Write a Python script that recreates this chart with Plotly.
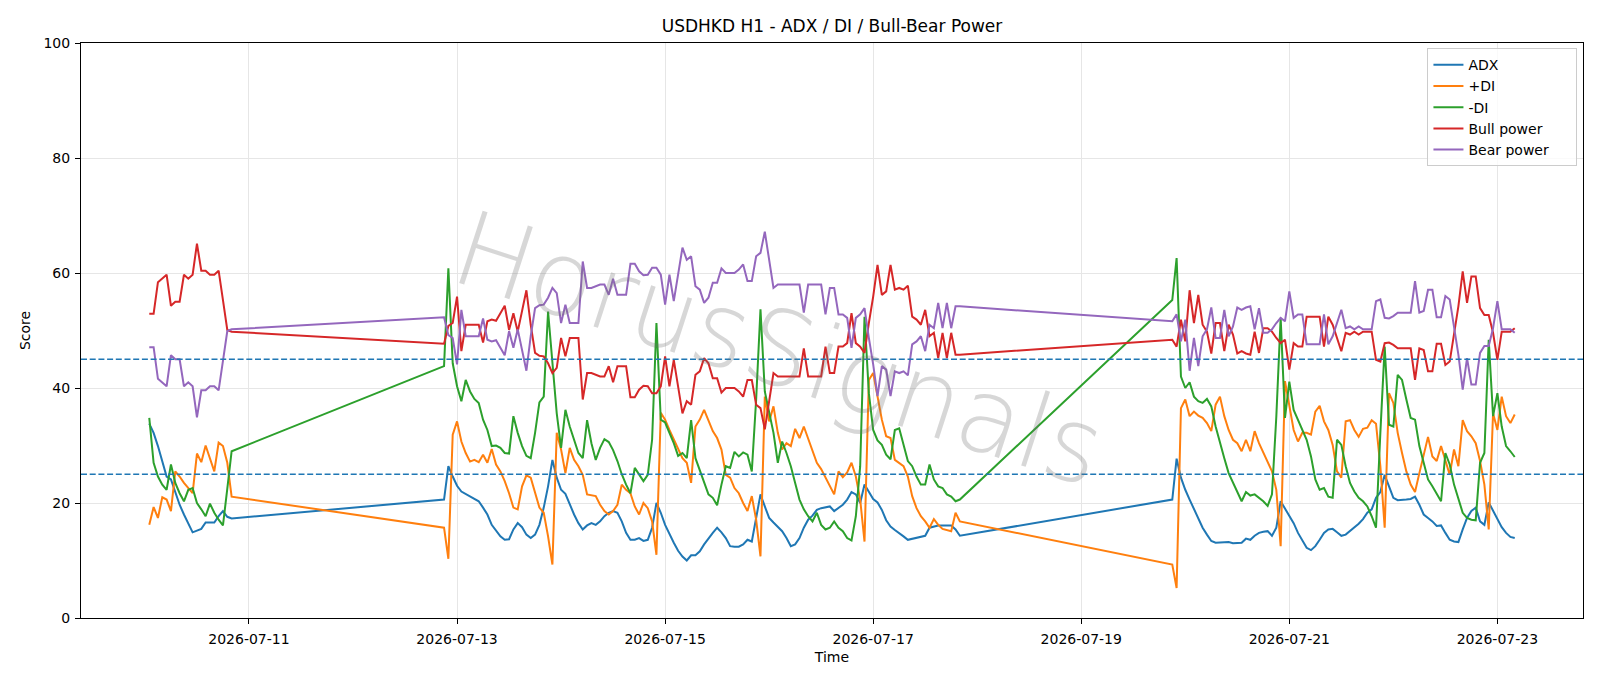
import pandas as pd
import plotly.graph_objects as go

# ---- time axis: three trading segments of hourly bars ----
seg_starts = ["2026-07-10 01:00", "2026-07-12 21:00", "2026-07-19 21:00"]
seg_lengths = [20, 120, 80]

# ---- series values ----
adx = [
    # segment 1
    33.8, 32.2, 29.9, 27.0, 24.6, 24.1, 22.0, 19.7, 18.0, 16.5,
    14.9, 15.2, 15.5, 16.6, 16.6, 16.6, 17.7, 18.6, 17.6, 17.3,
    # segment 2
    20.6, 26.4, 24.6, 23.0, 22.0, 21.6, 21.2, 20.7, 20.3, 19.2,
    18.0, 16.2, 15.1, 14.2, 13.6, 13.7, 15.4, 16.5, 15.8, 14.5,
    13.9, 14.5, 16.2, 19.2, 22.9, 27.5, 24.4, 22.3, 21.6, 19.7,
    18.0, 16.5, 15.4, 16.1, 16.5, 16.2, 16.8, 17.7, 18.3, 18.6,
    18.3, 16.8, 14.8, 13.6, 13.6, 13.9, 13.4, 13.6, 15.7, 20.0,
    18.3, 16.2, 14.5, 13.1, 11.7, 10.7, 10.0, 10.9, 10.9, 11.6,
    12.8, 13.9, 14.8, 15.7, 14.9, 13.9, 12.5, 12.4, 12.4, 12.8,
    13.6, 13.3, 17.7, 21.5, 19.4, 17.4, 16.6, 15.9, 15.1, 13.9,
    12.5, 12.8, 13.9, 15.7, 17.1, 17.8, 18.8, 19.1, 19.3, 19.4,
    18.6, 19.1, 19.7, 20.6, 21.9, 21.5, 20.0, 23.2, 22.0, 20.7,
    20.1, 18.8, 17.0, 15.9, 15.3, 14.8, 14.2, 13.6, 13.8, 13.9,
    14.1, 14.3, 15.7, 15.9, 16.1, 16.1, 16.1, 16.1, 15.4, 14.3,
    # segment 3
    20.6, 27.7, 24.4, 22.3, 20.6, 18.9, 17.1, 15.7, 14.5, 13.4,
    13.1, 13.1, 13.2, 13.2, 13.0, 13.0, 13.1, 13.8, 13.6, 14.3,
    14.8, 15.0, 15.1, 14.3, 15.7, 20.3, 19.1, 17.8, 16.5, 14.8,
    13.4, 12.2, 11.8, 12.5, 13.6, 14.8, 15.4, 15.5, 14.9, 14.3,
    14.5, 15.1, 15.8, 16.4, 17.2, 18.3, 18.9, 20.9, 21.9, 24.9,
    22.9, 20.9, 20.5, 20.5, 20.6, 20.7, 21.1, 19.7, 18.0, 17.4,
    16.8, 16.0, 16.1, 14.8, 13.6, 13.3, 13.2, 15.4, 17.4, 18.6,
    19.2, 16.8, 16.2, 20.1, 18.6, 17.1, 15.8, 14.8, 14.1, 13.9,
]

plus_di = [
    16.2, 19.3, 17.4, 21.0, 20.6, 18.6, 25.5, 24.6, 23.5, 22.6,
    21.7, 28.6, 27.1, 30.0, 27.7, 25.5, 30.5, 29.9, 27.0, 21.1,
    15.7, 10.3, 31.9, 34.2, 30.7, 28.7, 27.2, 27.5, 27.1, 28.4,
    27.0, 29.4, 26.7, 25.5, 23.8, 21.7, 19.2, 18.9, 22.9, 24.8,
    24.4, 21.7, 19.2, 18.3, 14.2, 9.3, 32.2, 29.3, 25.2, 29.6,
    27.5, 26.4, 24.9, 21.5, 21.3, 21.2, 19.7, 18.6, 18.0, 18.6,
    19.7, 23.2, 22.3, 21.7, 19.4, 18.0, 20.0, 19.1, 16.8, 11.0,
    35.7, 34.5, 32.7, 31.0, 29.6, 27.8, 27.0, 23.5, 33.3, 34.5,
    36.2, 34.5, 32.5, 31.3, 29.3, 24.9, 24.4, 22.6, 21.7, 20.0,
    18.6, 21.2, 17.1, 10.7, 38.5, 34.2, 36.8, 32.2, 29.3, 30.4,
    29.9, 32.9, 31.3, 33.3, 31.3, 29.3, 27.0, 25.9, 24.4, 22.9,
    21.5, 25.5, 24.5, 25.3, 27.0, 24.6, 20.6, 13.3, 41.4, 42.6,
    38.5, 34.5, 31.6, 31.3, 27.5, 27.0, 26.4, 24.6, 21.2, 19.1,
    17.7, 16.8, 15.7, 17.2, 16.2, 15.5, 15.3, 15.1, 18.3, 16.8,
    9.3, 5.2, 36.5, 38.0, 35.1, 35.9, 35.2, 34.8, 33.9, 32.5,
    37.1, 38.5, 35.1, 32.7, 31.0, 30.4, 29.0, 31.0, 29.0, 32.5,
    30.4, 28.7, 27.3, 25.5, 22.3, 12.5, 41.2, 36.8, 32.7, 30.7,
    32.2, 32.2, 31.9, 35.9, 36.9, 34.2, 32.7, 30.1, 25.5, 24.4,
    34.2, 34.4, 32.7, 31.5, 32.9, 33.1, 34.4, 33.8, 26.4, 15.7,
    39.1, 37.4, 32.2, 28.7, 25.5, 23.2, 21.9, 25.2, 28.1, 31.5,
    28.1, 27.3, 29.9, 27.5, 24.9, 29.3, 26.4, 34.4, 32.5, 31.6,
    30.4, 27.3, 23.2, 15.4, 35.6, 32.7, 38.5, 35.1, 33.9, 35.4,
]

minus_di = [
    34.8, 27.0, 24.6, 23.2, 22.3, 26.7, 23.5, 21.7, 20.3, 22.3,
    22.6, 20.0, 18.9, 17.7, 19.9, 18.3, 17.1, 16.1, 22.5, 29.0,
    43.8, 60.8, 44.3, 40.3, 37.7, 41.4, 39.4, 38.1, 37.4, 34.5,
    32.7, 29.9, 30.0, 29.6, 28.7, 28.6, 35.1, 32.2, 29.9, 28.2,
    27.8, 32.2, 37.5, 38.5, 53.3, 44.9, 35.6, 29.6, 36.2, 33.3,
    31.0, 28.7, 27.8, 34.4, 30.4, 27.5, 29.6, 31.1, 30.6, 29.2,
    27.3, 25.0, 23.2, 21.7, 26.1, 24.9, 23.8, 24.9, 31.0, 51.3,
    34.5, 34.0, 32.2, 30.4, 28.2, 28.7, 27.8, 34.4, 27.8, 25.8,
    23.5, 21.5, 20.9, 19.6, 23.2, 26.4, 26.1, 28.9, 28.1, 28.8,
    28.4, 25.5, 38.0, 53.7, 39.4, 35.6, 32.2, 27.0, 30.7, 28.7,
    26.4, 23.5, 20.6, 18.9, 17.7, 16.8, 18.3, 16.2, 15.4, 15.7,
    16.8, 15.7, 15.1, 13.9, 13.5, 17.7, 26.4, 52.4, 39.1, 32.7,
    30.9, 30.1, 28.4, 27.6, 32.7, 33.0, 29.9, 27.3, 26.4, 24.6,
    23.2, 23.2, 26.7, 24.1, 22.9, 22.6, 21.5, 21.1, 20.3, 20.6,
    55.3, 62.6, 42.0, 40.0, 41.0, 38.5, 37.7, 37.4, 38.1, 36.8,
    33.3, 30.4, 27.8, 25.2, 23.5, 21.7, 20.3, 21.9, 21.3, 21.5,
    20.9, 20.3, 19.5, 21.5, 35.0, 52.2, 34.8, 41.1, 36.2, 34.5,
    32.7, 31.0, 28.1, 24.1, 22.3, 22.6, 21.1, 20.9, 31.0, 30.1,
    26.4, 23.5, 22.0, 20.9, 20.3, 19.4, 17.7, 15.7, 32.2, 47.2,
    33.6, 33.3, 42.3, 41.4, 38.0, 34.8, 34.5, 29.9, 27.0, 24.1,
    22.9, 21.7, 20.3, 28.7, 26.7, 23.2, 20.6, 18.3, 17.4, 17.1,
    17.0, 27.0, 28.7, 48.4, 35.1, 39.1, 33.3, 29.9, 29.0, 28.0,
]

bull_power = [
    52.9, 52.9, 58.4, 59.0, 59.7, 54.3, 55.0, 55.0, 59.7, 59.0,
    59.7, 65.1, 60.4, 60.4, 59.7, 59.7, 60.4, 55.3, 50.1, 49.8,
    47.7, 50.8, 51.3, 55.9, 46.4, 51.0, 51.0, 51.0, 51.0, 47.9,
    51.6, 51.9, 51.7, 53.0, 54.3, 50.1, 53.0, 49.8, 53.6, 57.0,
    51.0, 46.1, 45.6, 45.5, 44.3, 42.6, 43.5, 48.7, 45.5, 48.7,
    48.7, 48.7, 38.0, 42.6, 42.6, 42.3, 42.0, 42.0, 43.8, 41.0,
    43.8, 43.8, 43.8, 38.4, 38.4, 39.7, 40.4, 40.3, 39.1, 39.1,
    40.3, 45.5, 40.3, 44.9, 40.3, 35.6, 37.7, 37.1, 42.3, 42.9,
    45.2, 44.3, 41.7, 41.7, 39.2, 40.0, 40.0, 40.0, 39.4, 38.5,
    41.4, 41.4, 37.1, 36.5, 32.8, 38.0, 42.6, 42.0, 42.0, 42.0,
    42.0, 42.0, 42.0, 46.9, 42.0, 42.0, 42.0, 42.0, 47.2, 42.6,
    42.6, 47.2, 47.2, 47.8, 53.0, 47.8, 47.2, 46.1, 51.3, 55.9,
    61.4, 56.2, 56.8, 61.4, 57.1, 57.4, 57.1, 57.8, 52.4, 51.9,
    51.0, 53.6, 49.0, 49.6, 45.2, 49.6, 45.2, 49.6, 45.8, 45.8,
    48.4, 47.2, 51.9, 48.1, 57.0, 51.3, 56.2, 51.0, 49.8, 46.0,
    51.3, 51.3, 46.4, 51.0, 49.3, 46.0, 46.4, 46.0, 45.8, 49.8,
    46.1, 50.4, 50.4, 49.8, 48.7, 47.8, 48.4, 43.2, 47.8, 47.2,
    47.2, 52.4, 52.4, 52.4, 52.4, 47.2, 52.4, 51.0, 48.7, 46.4,
    49.6, 49.3, 49.8, 49.3, 49.8, 49.8, 49.8, 44.9, 44.6, 47.8,
    47.9, 47.5, 46.9, 46.9, 46.9, 46.9, 41.4, 46.9, 46.6, 42.9,
    42.9, 47.7, 47.7, 44.0, 44.6, 49.3, 54.2, 60.3, 54.8, 59.4,
    59.4, 53.9, 52.7, 52.7, 49.6, 44.9, 49.8, 49.8, 49.8, 50.4,
]

bear_power = [
    47.1, 47.1, 41.6, 41.0, 40.3, 45.7, 45.0, 45.0, 40.3, 41.0,
    40.3, 34.9, 39.6, 39.6, 40.3, 40.3, 39.6, 44.7, 49.9, 50.2,
    52.3, 49.2, 48.7, 44.1, 53.6, 49.0, 49.0, 49.0, 49.0, 52.1,
    48.4, 48.1, 48.3, 47.0, 45.7, 49.9, 47.0, 50.2, 46.4, 43.0,
    49.0, 53.9, 54.4, 54.5, 55.7, 57.4, 56.5, 51.3, 54.5, 51.3,
    51.3, 51.3, 62.0, 57.4, 57.4, 57.7, 58.0, 58.0, 56.2, 59.0,
    56.2, 56.2, 56.2, 61.6, 61.6, 60.3, 59.6, 59.7, 60.9, 60.9,
    59.7, 54.5, 59.7, 55.1, 59.7, 64.4, 62.3, 62.9, 57.7, 57.1,
    54.8, 55.7, 58.3, 58.3, 60.8, 60.0, 60.0, 60.0, 60.6, 61.5,
    58.6, 58.6, 62.9, 63.5, 67.2, 62.0, 57.4, 58.0, 58.0, 58.0,
    58.0, 58.0, 58.0, 53.1, 58.0, 58.0, 58.0, 58.0, 52.8, 57.4,
    57.4, 52.8, 52.8, 52.2, 47.0, 52.2, 52.8, 53.9, 48.7, 44.1,
    38.6, 43.8, 43.2, 38.6, 42.9, 42.6, 42.9, 42.2, 47.6, 48.1,
    49.0, 46.4, 51.0, 50.4, 54.8, 50.4, 54.8, 50.4, 54.2, 54.2,
    51.6, 52.8, 48.1, 51.9, 43.0, 48.7, 43.8, 49.0, 50.2, 54.0,
    48.7, 48.7, 53.6, 49.0, 50.7, 54.0, 53.6, 54.0, 54.2, 50.2,
    53.9, 49.6, 49.6, 50.2, 51.3, 52.2, 51.6, 56.8, 52.2, 52.8,
    52.8, 47.6, 47.6, 47.6, 47.6, 52.8, 47.6, 49.0, 51.3, 53.6,
    50.4, 50.7, 50.2, 50.7, 50.2, 50.2, 50.2, 55.1, 55.4, 52.2,
    52.1, 52.5, 53.1, 53.1, 53.1, 53.1, 58.6, 53.1, 53.4, 57.1,
    57.1, 52.3, 52.3, 56.0, 55.4, 50.7, 45.8, 39.7, 45.2, 40.6,
    40.6, 46.1, 47.3, 47.3, 50.4, 55.1, 50.2, 50.2, 50.2, 49.6,
]

threshold_levels = [45, 25]
tick_dates = ["2026-07-11", "2026-07-13", "2026-07-15", "2026-07-17",
              "2026-07-19", "2026-07-21", "2026-07-23"]
y_ticks = [0, 20, 40, 60, 80, 100]

series_names = ["ADX", "+DI", "-DI", "Bull power", "Bear power"]
series_colors = ["#1f77b4", "#ff7f0e", "#2ca02c", "#d62728", "#9467bd"]

# ---- build timestamps ----
times = []
for start, n in zip(seg_starts, seg_lengths):
    times += list(pd.date_range(start, periods=n, freq="h"))

all_series = [adx, plus_di, minus_di, bull_power, bear_power]
for name, s in zip(series_names, all_series):
    if len(s) != len(times):
        raise ValueError(f"{name}: {len(s)} values vs {len(times)} times")

FONT = "DejaVu Sans, Liberation Sans, sans-serif"
PAD = "\u00a0" * 5  # widens the legend box toward the left like the reference

fig = go.Figure()
for name, color, vals in zip(series_names, series_colors, all_series):
    fig.add_trace(go.Scatter(
        x=times, y=vals, mode="lines", name=name + PAD,
        line=dict(color=color, width=2),
    ))

for lvl in threshold_levels:
    fig.add_shape(type="line", xref="paper", x0=0, x1=1, yref="y", y0=lvl, y1=lvl,
                  line=dict(color="#1f77b4", width=1.5, dash="6px,2.7px"), layer="above")

fig.add_annotation(
    text="HorusSignals", xref="paper", yref="paper", x=0.465, y=0.468,
    showarrow=False, textangle=18,
    font=dict(family=FONT, size=104, color="rgba(110,110,110,0.28)", weight=200),
)

fig.update_layout(
    width=1600, height=686,
    margin=dict(l=81, r=17, t=43, b=68),
    paper_bgcolor="white", plot_bgcolor="white",
    font=dict(family=FONT, size=14, color="black"),
    title=dict(text="USDHKD H1 - ADX / DI / Bull-Bear Power", x=0.5, xref="paper",
               xanchor="center", y=1 - 26 / 686, yref="container", yanchor="middle",
               font=dict(size=17, color="black")),
    showlegend=True,
    legend=dict(x=0.9963, y=0.991, xanchor="right", yanchor="top",
                bgcolor="rgba(255,255,255,0.8)", bordercolor="#cccccc", borderwidth=1,
                font=dict(size=14), tracegroupgap=0),
)

fig.update_xaxes(
    range=["2026-07-09 09:15", "2026-07-23 19:45"],
    tickvals=tick_dates, tickformat="%Y-%m-%d",
    showgrid=True, gridcolor="#e6e6e6", gridwidth=1,
    showline=True, linecolor="black", linewidth=1, mirror=True,
    ticks="outside", ticklen=5, tickwidth=1, tickcolor="black",
    tickfont=dict(size=14), zeroline=False, ticklabelstandoff=3,
    title=dict(text="Time", font=dict(size=14), standoff=6),
)
fig.update_yaxes(
    range=[0, 100], tickvals=y_ticks,
    showgrid=True, gridcolor="#e6e6e6", gridwidth=1,
    showline=True, linecolor="black", linewidth=1, mirror=True,
    ticks="outside", ticklen=5, tickwidth=1, tickcolor="black",
    tickfont=dict(size=14), zeroline=False, ticklabelstandoff=2,
    title=dict(text="Score", font=dict(size=14), standoff=9),
)

fig.write_html("out.html")
